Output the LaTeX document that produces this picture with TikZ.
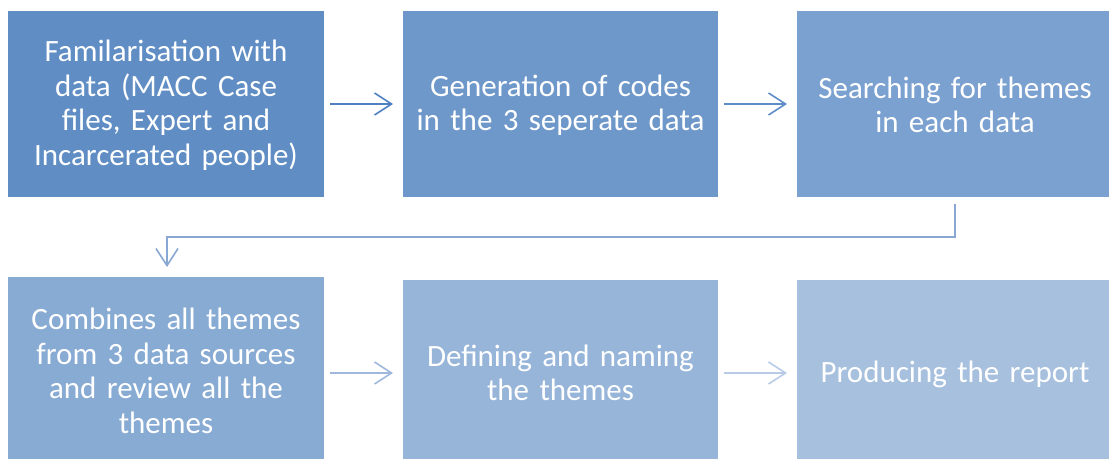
\documentclass[tikz,border=0pt]{standalone}
\usepackage{fontspec}
\setmainfont{Carlito}
\usetikzlibrary{arrows.meta}
\definecolor{bA}{HTML}{5F8DC4}
\definecolor{bB}{HTML}{6E98CA}
\definecolor{bC}{HTML}{7BA1D0}
\definecolor{bD}{HTML}{88ABD4}
\definecolor{bE}{HTML}{96B5D9}
\definecolor{bF}{HTML}{A6C0DE}
\definecolor{aA}{HTML}{4F80C2}
\definecolor{aB}{HTML}{5E8CC8}
\definecolor{aC}{HTML}{88A7D2}
\definecolor{aD}{HTML}{9FB8DC}
\definecolor{aE}{HTML}{B8CBE6}
\begin{document}
\begin{tikzpicture}[x=1pt,y=-1pt,
  stepbox/.style={draw=none,inner sep=0pt,minimum width=316pt,text width=310pt,
    align=center,text=white,font=\fontsize{31}{34.5}\selectfont},
  flow/.style={line width=1.6pt,-{Straight Barb[length=17pt,width=22pt,line width=1.6pt]}}]
\useasboundingbox (0,0) rectangle (1109,459);
% first row
\fill[bA] (8,11) rectangle (324,197);
\fill[bB] (403,11) rectangle (718,197);
\fill[bC] (797,11) rectangle (1109,197);
% second row
\fill[bD] (8,277) rectangle (324,459);
\fill[bE] (403,280) rectangle (718,459);
\fill[bF] (797,280) rectangle (1109,459);
\node[stepbox] (s1) at (166,105) {Familarisation with\\data (MACC Case\\files, Expert and\\Incarcerated people)};
\node[stepbox] (s2) at (560.5,105) {Generation of codes\\in the 3 seperate data};
\node[stepbox] (s3) at (955,105) {Searching for themes\\in each data};
\node[stepbox] (s4) at (166,371) {Combines all themes\\from 3 data sources\\and review all the\\themes};
\node[stepbox] (s5) at (560.5,373) {Defining and naming\\the themes};
\node[stepbox] (s6) at (955,374) {Producing the report};
% connectors
\coordinate (a1s) at (330,104);
\coordinate (a1e) at (393,104);
\coordinate (a2s) at (724,104);
\coordinate (a2e) at (787,104);
\coordinate (b1) at (955,204);
\coordinate (b2) at (955,237);
\coordinate (b3) at (167,237);
\coordinate (b4) at (167,267);
\coordinate (a4s) at (330,373);
\coordinate (a4e) at (393,373);
\coordinate (a5s) at (724,373);
\coordinate (a5e) at (787,373);
\draw[flow,aA] (a1s) -- (a1e);
\draw[flow,aB] (a2s) -- (a2e);
\draw[flow,aC] (b1) -- (b2) -- (b3) -- (b4);
\draw[flow,aD] (a4s) -- (a4e);
\draw[flow,aE] (a5s) -- (a5e);
\end{tikzpicture}
\end{document}
